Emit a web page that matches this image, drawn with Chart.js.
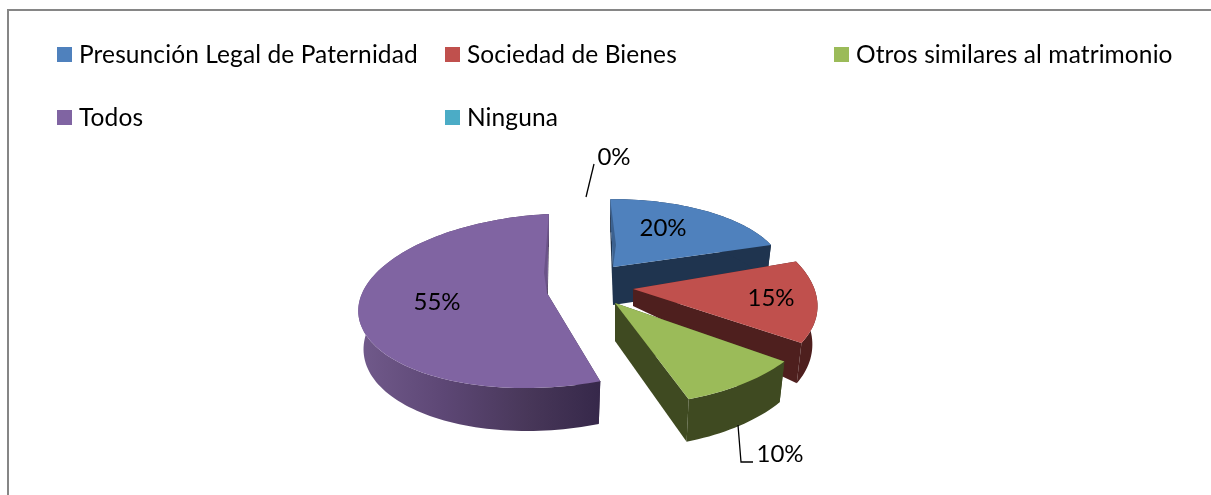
<!DOCTYPE html>
<html lang="es">
<head>
<meta charset="utf-8">
<script src="https://cdn.jsdelivr.net/npm/chart.js@4"></script>
<style>
  html,body{margin:0;padding:0;background:#fff;}
  #wrap{position:relative;width:1211px;height:495px;overflow:hidden;font-family:Lato,sans-serif;color:#000;}
  #frame{position:absolute;left:7px;top:9px;right:-4px;bottom:-4px;border-left:2px solid #868686;border-top:2px solid #868686;}
  canvas{position:absolute;left:0;top:0;}
  .lg{position:absolute;white-space:nowrap;font-size:24.5px;line-height:30px;letter-spacing:0.1px;}
  .lg i{position:absolute;left:-22px;top:8px;width:15px;height:15px;}
</style>
</head>
<body>
<div id="wrap">
  <div id="frame"></div>
  <canvas id="c" width="1211" height="495"></canvas>
  <div id="legend"></div>
</div>
<script>
const categories = ['Presunción Legal de Paternidad','Sociedad de Bienes','Otros similares al matrimonio','Todos','Ninguna'];
const values = [20,15,10,55,0];
const topColors = ['#4f81bd','#c0504d','#9bbb59','#8064a2','#4bacc6'];
const wallColors = ['#1f344f','#4e1f1e','#3f4a21','#3a2a4b','#2a6a7a'];

// 3D look: a per-slice projection of the library's arc angles
const PERSP = 0.076, DEPTH = 38, LEAN = 0.028;
const frames = [
  {ax:613,ay:267,rx:170,ry:73,s:0,w0:-1,w1:0,apexD:38,sliver:[3,-22],sliverColor:'#3c618f',sliverEnd:0},
  {ax:633,ay:289,rx:184,ry:92,s:10,w0:-6,w1:-8,apexD:17},
  {ax:615,ay:303,rx:200,ry:95,s:0,w0:0,w1:-2,apexD:38},
  {ax:547,ay:293,rx:188,ry:86,s:-10,p:0.09,w0:3,w1:0.6,apexD:42,sliver:[-3,-20],sliverColor:'#6b5389',sliverEnd:1},
  null
];
const labelPos = [[663,228],[771,298],[780,454],[437,302],[614,157]];
const legendPos = [[79,39],[467,39],[856,39],[79,102],[467,102]];

function project(f,phi,depth){
  const u=Math.sin(phi), v=-Math.cos(phi), d=1-(f.p||PERSP)*v;
  const k=1-LEAN*depth/DEPTH;
  return [f.ax+k*f.rx*u/d, f.ay+(f.ry*v+f.s*u)/d+depth*(1+0.13*v)];
}
function arcPts(f,a0,a1,depth){
  const n=Math.max(2,Math.ceil(Math.abs(a1-a0)/0.03)), out=[];
  for(let i=0;i<=n;i++) out.push(project(f,a0+(a1-a0)*i/n,depth));
  return out;
}
function fillPoly(ctx,pts,fill){
  ctx.beginPath();
  pts.forEach((p,i)=>i?ctx.lineTo(p[0],p[1]):ctx.moveTo(p[0],p[1]));
  ctx.closePath();
  ctx.fillStyle=fill;
  ctx.fill();
}
const pie3d = {
  id:'pie3d',
  beforeDatasetDraw(chart){
    const ctx=chart.ctx, arcs=chart.getDatasetMeta(0).data;
    ctx.save();
    [3,0,1,2].forEach(i=>{
      const f=frames[i], arc=arcs[i];
      const a0=arc.startAngle+Math.PI/2+f.w0*Math.PI/180;
      const a1=arc.endAngle+Math.PI/2+f.w1*Math.PI/180;
      const apexT=[f.ax,f.ay], apexB=[f.ax,f.ay+f.apexD];
      const s=project(f,a0,0), e=project(f,a1,0), sB=project(f,a0,DEPTH), eB=project(f,a1,DEPTH);
      // radial walls
      fillPoly(ctx,[apexT,s,sB,apexB],wallColors[i]);
      fillPoly(ctx,[apexT,e,eB,apexB],wallColors[i]);
      // outer wall
      let wall=wallColors[i];
      if(i===3){
        const g=ctx.createLinearGradient(359,0,600,0);
        g.addColorStop(0,'#715a8b');g.addColorStop(0.35,'#5d4775');g.addColorStop(0.7,'#483759');g.addColorStop(1,'#36284a');
        wall=g;
      }
      fillPoly(ctx,arcPts(f,a0,a1,0).concat(arcPts(f,a1,a0,DEPTH)),wall);
      // top face
      fillPoly(ctx,[apexT].concat(arcPts(f,a0,a1,0)),topColors[i]);
      if(f.sliver){
        fillPoly(ctx,[f.sliverEnd?e:s,apexT,[f.ax+f.sliver[0],f.ay+f.sliver[1]]],f.sliverColor);
      }
    });
    ctx.restore();
    return false;
  },
  afterDatasetsDraw(chart){
    const ctx=chart.ctx;
    ctx.save();
    ctx.strokeStyle='#000';ctx.lineWidth=1.3;
    ctx.beginPath();ctx.moveTo(594,164);ctx.lineTo(586,197);ctx.stroke();
    ctx.beginPath();ctx.moveTo(738,425);ctx.lineTo(741,462);ctx.lineTo(753,462);ctx.stroke();
    ctx.fillStyle='#000';ctx.font='24px Lato';ctx.textAlign='center';ctx.textBaseline='middle';
    values.forEach((v,i)=>ctx.fillText(v+'%',labelPos[i][0],labelPos[i][1]));
    ctx.restore();
  }
};
const chart = new Chart(document.getElementById('c'),{
  type:'pie',
  data:{labels:categories,datasets:[{data:values,backgroundColor:topColors,borderWidth:0}]},
  options:{responsive:false,animation:false,rotation:0,
    plugins:{legend:{display:false},tooltip:{enabled:false}}},
  plugins:[pie3d]
});
const legendEl=document.getElementById('legend');
Chart.overrides.pie.plugins.legend.labels.generateLabels(chart).forEach((it,i)=>{
  const d=document.createElement('div');
  d.className='lg';d.style.left=legendPos[i][0]+'px';d.style.top=legendPos[i][1]+'px';
  const sw=document.createElement('i');sw.style.background=it.fillStyle;
  d.appendChild(sw);d.appendChild(document.createTextNode(it.text));
  legendEl.appendChild(d);
});
</script>
</body>
</html>
